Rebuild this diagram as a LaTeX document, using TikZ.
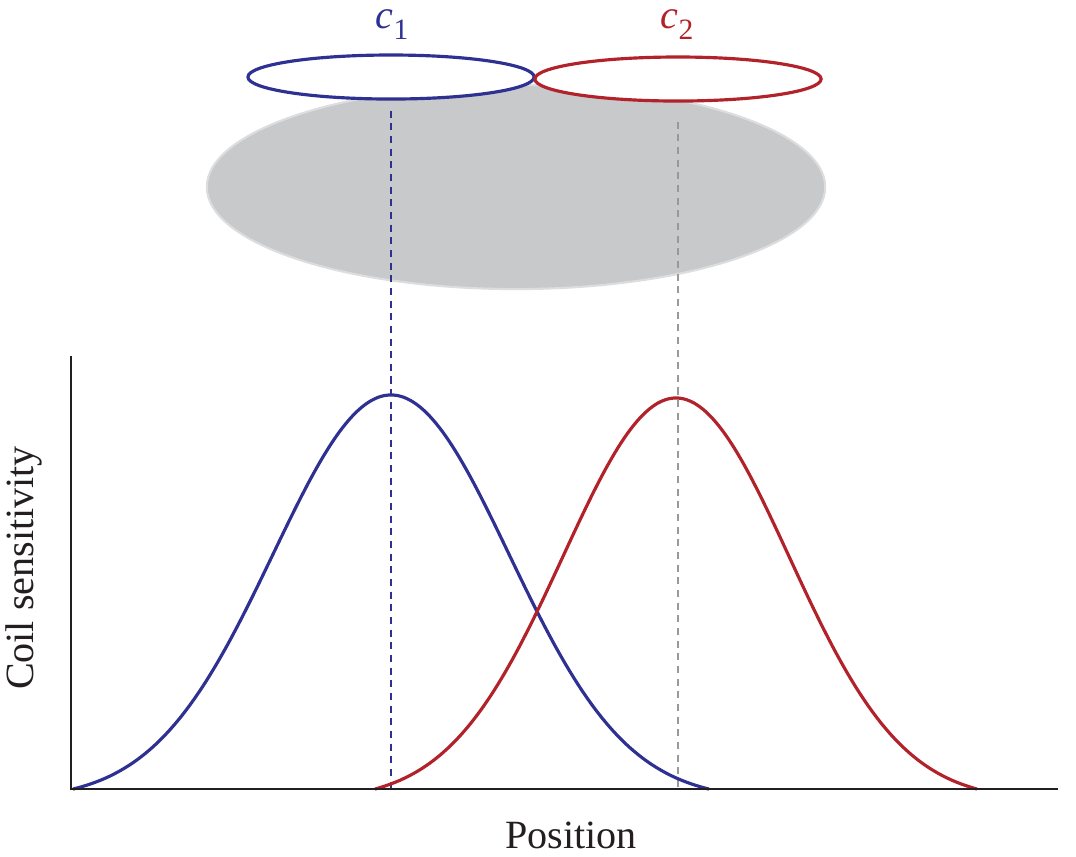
\documentclass[tikz,border=0pt]{standalone}
\usepackage{fontspec}
\setmainfont{Liberation Serif}
\usepackage{xcolor}
\usepackage{amsmath}
\usetikzlibrary{shapes,positioning}
\definecolor{coilblue}{HTML}{2E3192}
\definecolor{coilred}{HTML}{B2222A}
\definecolor{bodygray}{HTML}{C8C9CB}
\definecolor{bodyedge}{HTML}{DCDDDE}
\definecolor{ink}{HTML}{231F20}
\newcommand{\coillabel}[1]{\textit{c}\raisebox{-0.28em}{\fontsize{8.4}{9}\selectfont #1}}

\begin{document}
\begin{tikzpicture}[x=0.01cm,y=-0.01cm,font=\fontsize{11.4}{13}\selectfont]
			\useasboundingbox (0,0) rectangle (1076,856);
			\node[draw=bodyedge, fill=bodygray, ellipse, line width=0.6pt, inner sep=0, minimum width=6.18cm, minimum height=2.04cm] (Body) at (516,187) {} ;
			\node[draw=coilblue, fill=white, ellipse, line width=0.9pt, inner sep=0, minimum width=2.86cm, minimum height=0.44cm] (C1) at (391,77) {} ;
			\node[draw=coilred, fill=white, ellipse, line width=0.9pt, inner sep=0, minimum width=2.86cm, minimum height=0.44cm] (C2) at (678,79) {} ;
			\node[text=coilblue, anchor=base, inner sep=0] (L1) at (392,28) {\coillabel{1}} ;
			\node[text=coilred, anchor=base, inner sep=0] (L2) at (677,28) {\coillabel{2}} ;
			
			\coordinate (O) at (71,789) ;
			\coordinate (Ytop) at (71,356) ;
			\coordinate (Xend) at (1058,789) ;
			\coordinate (P1) at (C1 |- O) ;
			\coordinate (P2) at (C2 |- O) ;
			
			\draw[coilblue, line width=0.6pt, dash pattern=on 2pt off 1.6pt] ([yshift=-0.1cm]C1.south) -- (P1) ;
			\draw[gray!80, line width=0.6pt, dash pattern=on 2pt off 1.6pt] ([yshift=-0.19cm]C2.south) -- (P2) ;
			
			\draw[coilblue, line width=0.9pt, domain=73:709, samples=120, smooth] plot (\x, {789-394*(exp(-((\x-391)/118)^2/2)-0.0265)/0.9735}) ;
			\draw[coilred, line width=0.9pt, domain=375:977, samples=120, smooth] plot (\x, {789-391*(exp(-((\x-676)/113)^2/2)-0.0288)/0.9712}) ;
			
			\draw[ink, line width=0.75pt] (Ytop) -- (O) -- (Xend) ;
			
			\node[ink, anchor=base] (XL) at (571,848) {Position} ;
			\node[ink, rotate=90, anchor=base] (YL) at (34,568) {Coil sensitivity} ;
		\end{tikzpicture}
\end{document}
